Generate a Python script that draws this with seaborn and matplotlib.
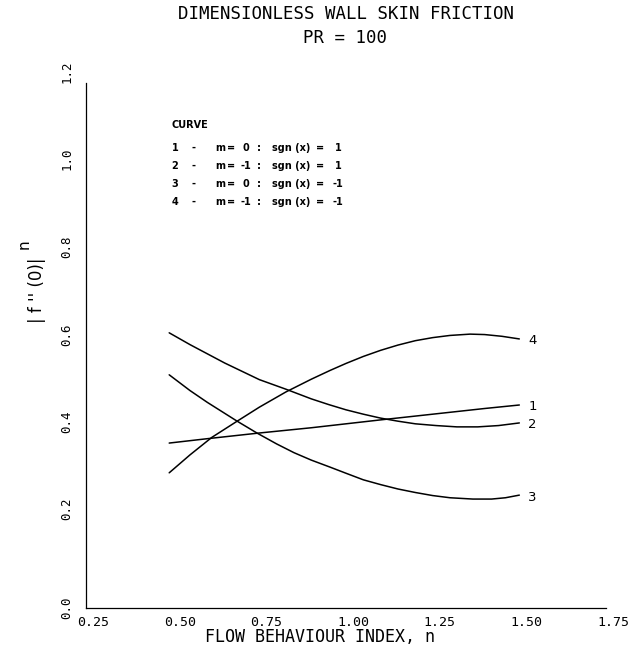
import numpy as np
import pandas as pd
import seaborn as sns
import matplotlib
matplotlib.use("Agg")
import matplotlib.pyplot as plt
from matplotlib.transforms import ScaledTranslation

# ---- data ----
n1 = [0.49, 0.60, 0.75, 0.90, 1.00, 1.10, 1.25, 1.40, 1.50]
f1 = [0.377, 0.387, 0.400, 0.412, 0.421, 0.430, 0.443, 0.456, 0.464]

n2 = [0.49, 0.55, 0.65, 0.75, 0.827, 0.90, 0.95, 1.00, 1.05, 1.10, 1.15, 1.20,
      1.26, 1.32, 1.38, 1.44, 1.50]
f2 = [0.629, 0.602, 0.560, 0.522, 0.500, 0.478, 0.465, 0.453, 0.443, 0.434, 0.427,
      0.421, 0.417, 0.414, 0.414, 0.417, 0.423]

n3 = [0.49, 0.55, 0.60, 0.65, 0.686, 0.743, 0.80, 0.85, 0.90, 0.954, 1.00, 1.05,
      1.10, 1.15, 1.20, 1.25, 1.30, 1.366, 1.42, 1.46, 1.50]
f3 = [0.533, 0.497, 0.470, 0.445, 0.427, 0.400, 0.375, 0.355, 0.338, 0.322, 0.308,
      0.293, 0.282, 0.272, 0.264, 0.257, 0.252, 0.249, 0.249, 0.252, 0.258]

n4 = [0.49, 0.55, 0.613, 0.686, 0.75, 0.827, 0.90, 0.954, 1.00, 1.05, 1.10, 1.15,
      1.20, 1.25, 1.30, 1.358, 1.40, 1.45, 1.50]
f4 = [0.309, 0.350, 0.390, 0.427, 0.459, 0.494, 0.523, 0.543, 0.559, 0.575, 0.589,
      0.601, 0.611, 0.618, 0.623, 0.626, 0.625, 0.621, 0.615]

curve_ids = ["1", "2", "3", "4"]
m_values = ["0", "-1", "0", "-1"]
sgn_values = ["1", "1", "-1", "-1"]

x_ticks = [0.25, 0.50, 0.75, 1.00, 1.25, 1.50, 1.75]
x_ticklabels = ["0.25", "0.50", "0.75", "1.00", "1.25", "1.50", "1.75"]
y_ticks = [0.0, 0.2, 0.4, 0.6, 0.8, 1.0, 1.2]
y_ticklabels = ["0.0", "0.2", "0.4", "0.6", "0.8", "1.0", "1.2"]

title = "DIMENSIONLESS WALL SKIN FRICTION"
subtitle = "PR = 100"
xlabel = "FLOW BEHAVIOUR INDEX, n"

# ---- long-form table ----
frames = []
for cid, xs, ys in zip(curve_ids, [n1, n2, n3, n4], [f1, f2, f3, f4]):
    frames.append(pd.DataFrame({"n": xs, "f": ys, "curve": cid}))
df = pd.concat(frames, ignore_index=True)

sns.set_theme(style="white")
plt.rcParams["font.family"] = ["DejaVu Sans Mono", "DejaVu Sans"]

W, H = 638, 650
fig = plt.figure(figsize=(W / 100, H / 100), dpi=100)
ax = fig.add_axes([86 / W, 1 - 608 / H, (606 - 86) / W, (608 - 83) / H])

sns.lineplot(data=df, x="n", y="f", hue="curve", units="curve", estimator=None,
             palette={c: "black" for c in curve_ids}, linewidth=1.1,
             legend=False, sort=True, ax=ax)

ax.set_xlim(0.25, 1.75)
ax.set_ylim(0.0, 1.2)
for s in ["top", "right"]:
    ax.spines[s].set_visible(False)
for s in ["left", "bottom"]:
    ax.spines[s].set_color("black")
    ax.spines[s].set_linewidth(0.9)

ax.set_xticks(x_ticks)
ax.set_xticklabels(x_ticklabels, fontsize=9.5)
ax.set_yticks(y_ticks)
ax.set_yticklabels(y_ticklabels, fontsize=9, rotation=90, va="bottom")
ax.tick_params(axis="x", direction="out", length=4, width=0.9, color="black", pad=2, labelcolor="black")
ax.tick_params(axis="y", direction="out", length=3, width=0.9, color="black", pad=6, labelcolor="black")
for lab in ax.get_xticklabels():
    lab.set_transform(lab.get_transform() + ScaledTranslation(7 / 100, 0, fig.dpi_scale_trans))
ylabs = ax.get_yticklabels()
ylabs[0].set_va("center")

ax.set_xlabel("")
ax.set_ylabel("")

def fx(px):
    return px / W

def fy(py):
    return 1 - py / H

fig.text(fx(346), fy(14), title, ha="center", va="center", fontsize=12.5, color="black")
fig.text(fx(345), fy(38), subtitle, ha="center", va="center", fontsize=12.5, color="black")
fig.text(fx(320), fy(637), xlabel, ha="center", va="center", fontsize=12, color="black")
fig.text(fx(37), fy(290), "| f '' (0)|", ha="center", va="center", rotation=90,
         fontsize=12, family="DejaVu Sans", color="black")
fig.text(fx(24), fy(244), "n", ha="center", va="center", rotation=90,
         fontsize=11, family="DejaVu Sans", color="black")

# curve legend block
lf = dict(fontsize=7, fontweight="bold", family="DejaVu Sans", color="black", va="center")
fig.text(fx(172), fy(125), "CURVE", ha="left", **lf)
for i, (cid, mv, sv) in enumerate(zip(curve_ids, m_values, sgn_values)):
    y = fy(148 + 18 * i)
    fig.text(fx(175), y, cid, ha="center", **lf)
    fig.text(fx(193), y, "-", ha="center", **lf)
    fig.text(fx(220), y, "m", ha="center", **lf)
    fig.text(fx(231), y, "=", ha="center", **lf)
    fig.text(fx(246), y, mv, ha="center", **lf)
    fig.text(fx(259), y, ":", ha="center", **lf)
    fig.text(fx(272), y, "sgn (x)", ha="left", **lf)
    fig.text(fx(320), y, "=", ha="center", **lf)
    fig.text(fx(338), y, sv, ha="center", **lf)

# end-of-curve labels, placed from the data
for cid, xs, ys in zip(curve_ids, [n1, n2, n3, n4], [f1, f2, f3, f4]):
    t = ax.text(xs[-1], ys[-1], cid, ha="left", va="center", fontsize=9.5,
                family="DejaVu Sans", color="black")
    t.set_transform(ax.transData + ScaledTranslation(9 / 100, -2 / 100, fig.dpi_scale_trans))

fig.savefig("out.png", dpi=100, facecolor="white")
